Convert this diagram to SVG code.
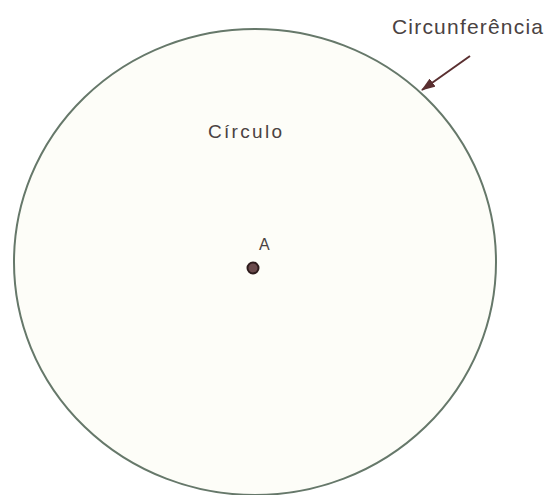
<svg xmlns="http://www.w3.org/2000/svg" width="545" height="495" viewBox="0 0 545 495">
<defs>
<style>
.lbl{font-family:"Liberation Sans",Arial,sans-serif;fill:#4a4242}
</style>
<marker id="ah" viewBox="0 0 14 10" refX="13" refY="5" markerWidth="7" markerHeight="5" orient="auto-start-reverse">
<path d="M0,0 L14,5 L0,10 z" fill="#5a2f30"/>
</marker>
</defs>
<rect width="545" height="495" fill="#ffffff"/>
<g id="circle">
<ellipse cx="255" cy="262" rx="241" ry="233" fill="#fdfdf8" stroke="#66786a" stroke-width="2"/>
<text class="lbl" x="208" y="138" font-size="19" textLength="74" lengthAdjust="spacing">Círculo</text>
</g>
<g id="pointA">
<circle cx="253" cy="268" r="5.5" fill="#6a4a4c" stroke="#2e1c1d" stroke-width="2"/>
<text class="lbl" x="259" y="250" font-size="16" fill="#7a4a55">A</text>
</g>
<g id="label-circ">
<text class="lbl" x="392" y="34" font-size="21" textLength="151" lengthAdjust="spacing">Circunferência</text>
</g>
<g id="connectors">
<line x1="470" y1="56" x2="422" y2="90" stroke="#5a2f30" stroke-width="2" marker-end="url(#ah)"/>
</g>
</svg>
